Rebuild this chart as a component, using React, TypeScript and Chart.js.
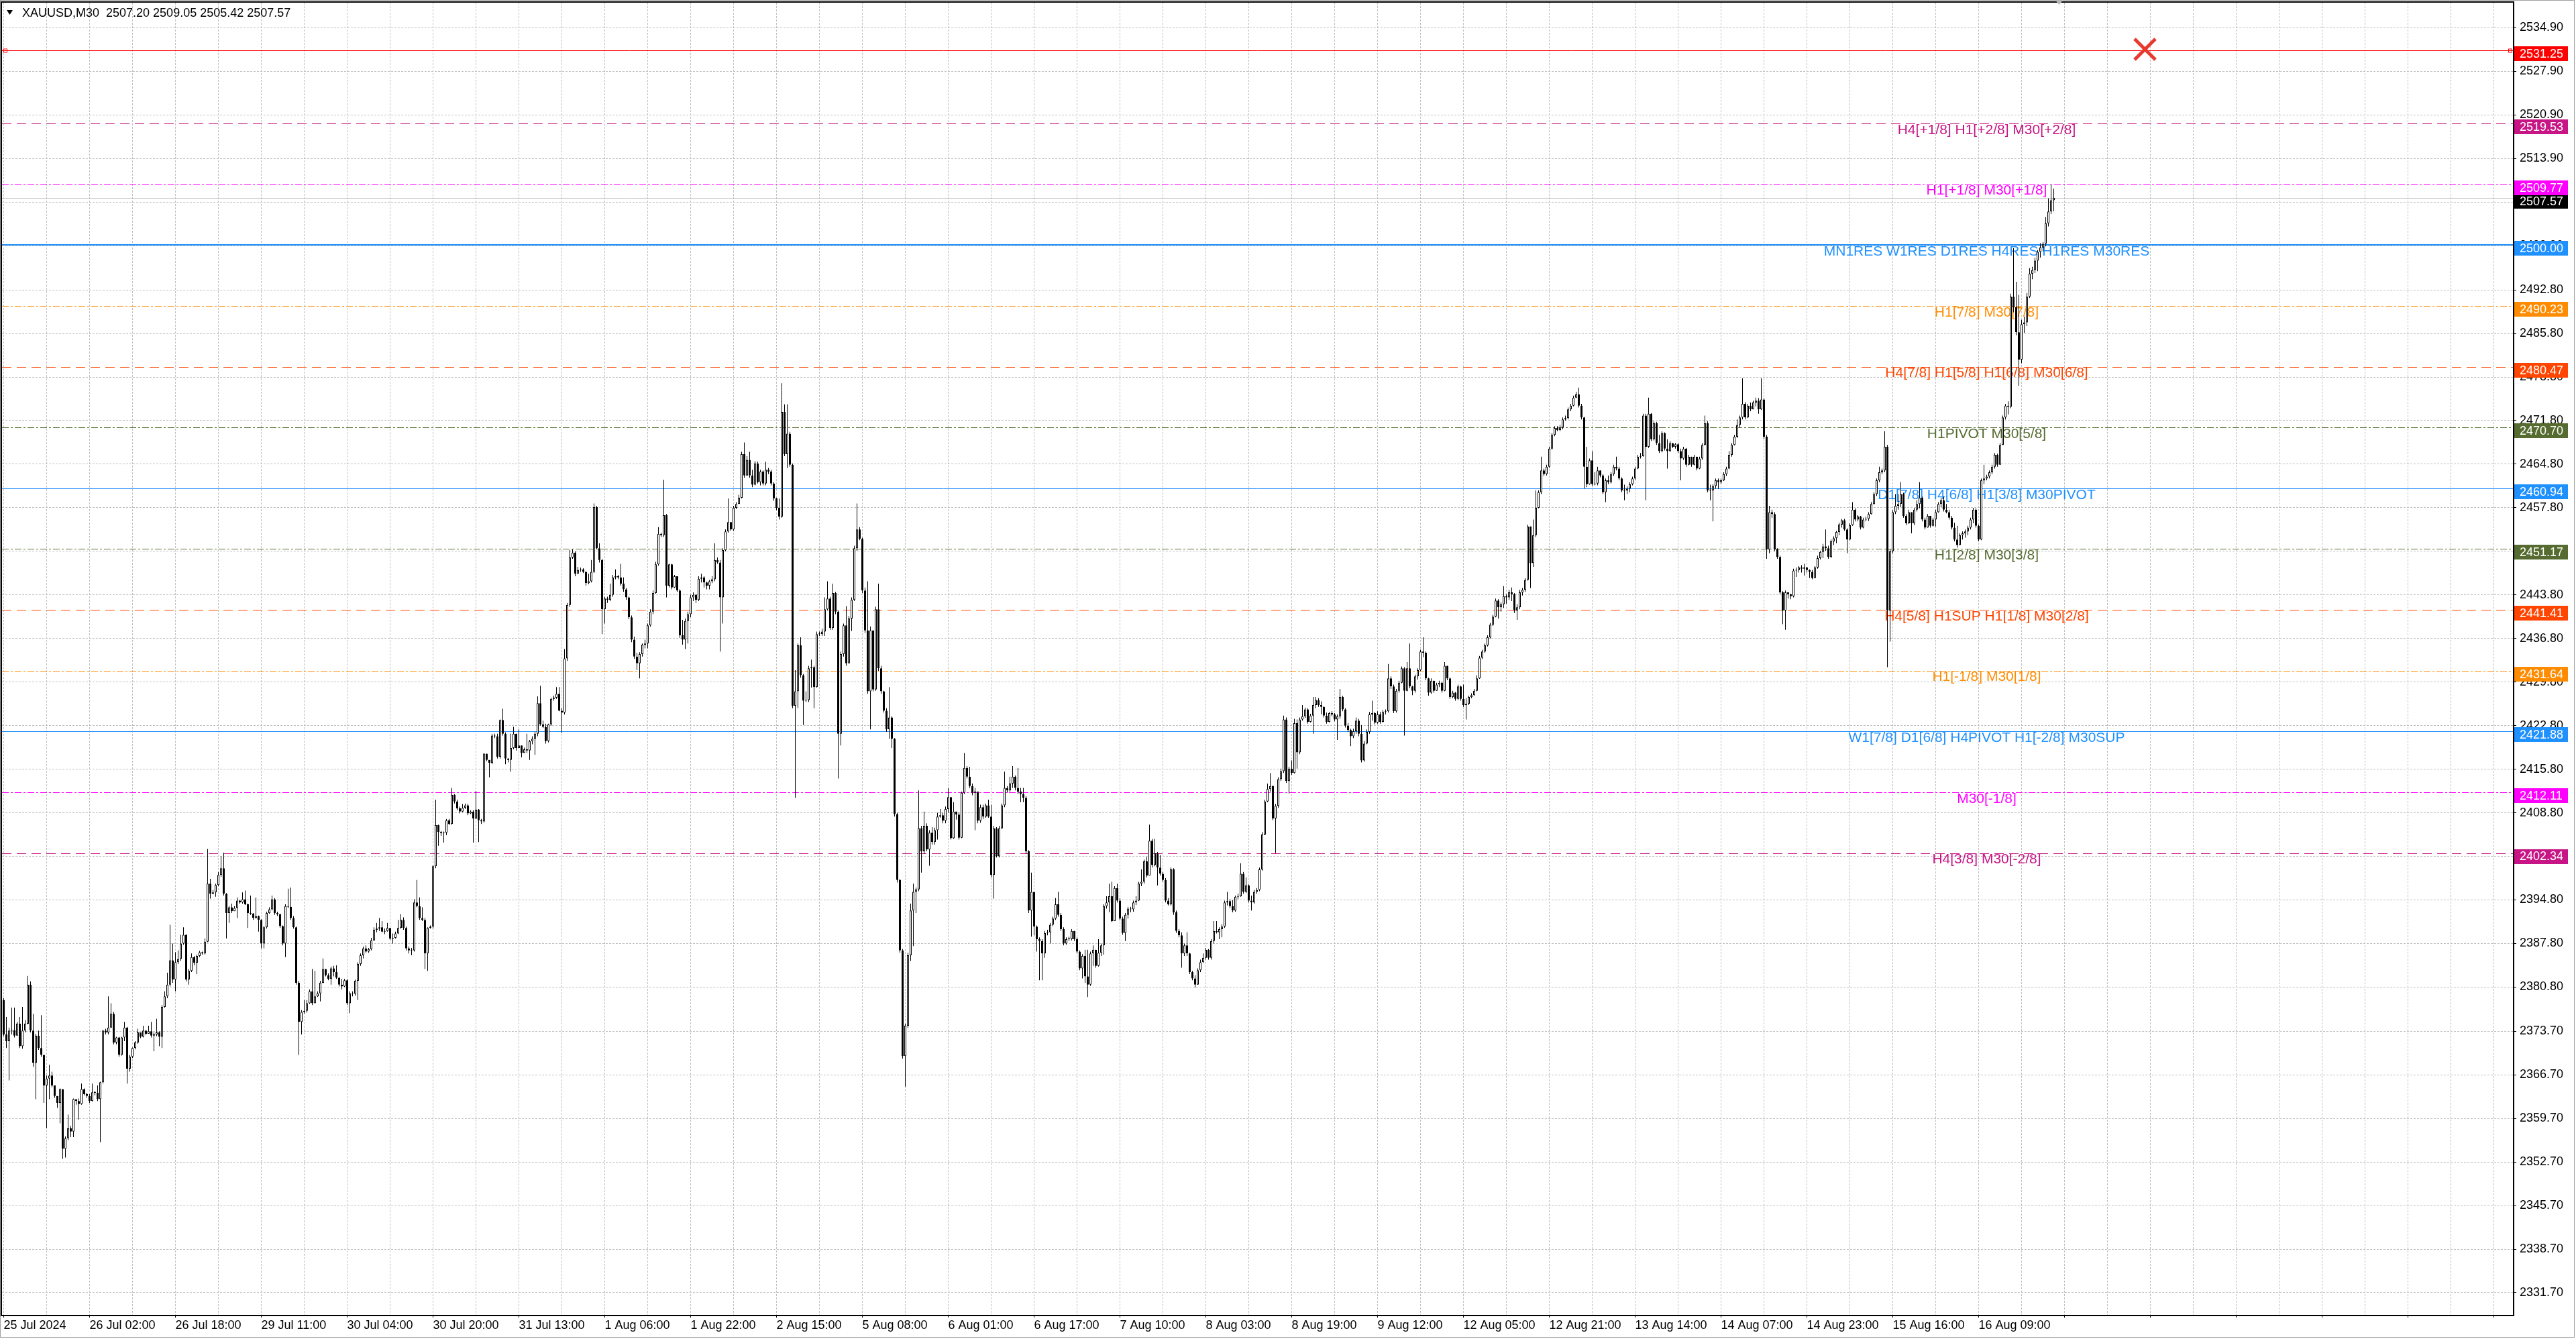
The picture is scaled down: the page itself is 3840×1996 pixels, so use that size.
import { useEffect, useRef } from 'react';
import { Chart, registerables } from 'chart.js';

Chart.register(...registerables);

// XAUUSD M30, 25 Jul 2024 09:00 .. 16 Aug 2024 23:00 (one value per bar)
const firstOpen = 2378.7;

const closes: number[] = [
  2373.2, 2372.1, 2373.8, 2373.9, 2373.0, 2374.9, 2371.3, 2373.8, 2374.9, 2381.2,
  2373.8, 2368.6, 2373.0, 2371.0, 2369.9, 2365.0, 2366.1, 2366.6, 2365.0, 2363.3,
  2362.2, 2364.4, 2354.8, 2356.5, 2358.1, 2357.6, 2362.8, 2362.5, 2362.0, 2364.4,
  2363.6, 2363.3, 2362.5, 2363.9, 2363.8, 2362.8, 2365.5, 2373.8, 2373.5, 2374.3,
  2376.5, 2371.9, 2372.7, 2369.9, 2372.7, 2374.3, 2367.7, 2369.6, 2371.0, 2371.9,
  2373.5, 2372.8, 2373.8, 2373.3, 2373.7, 2373.0, 2373.2, 2373.5, 2372.8, 2377.6,
  2379.3, 2381.2, 2385.1, 2382.0, 2384.8, 2385.3, 2387.8, 2389.2, 2382.0, 2383.4,
  2385.6, 2384.7, 2385.8, 2386.4, 2386.2, 2388.1, 2397.4, 2395.8, 2396.0, 2397.2,
  2398.8, 2399.9, 2395.8, 2392.7, 2393.6, 2393.0, 2393.5, 2394.7, 2394.4, 2394.9,
  2394.1, 2392.7, 2392.6, 2391.9, 2392.2, 2391.6, 2387.8, 2390.4, 2392.7, 2393.3,
  2394.9, 2392.7, 2392.5, 2390.6, 2387.8, 2393.8, 2393.7, 2391.9, 2390.4, 2381.5,
  2375.2, 2376.8, 2377.0, 2378.2, 2380.1, 2378.2, 2379.3, 2379.8, 2381.5, 2383.7,
  2382.7, 2382.1, 2383.8, 2383.2, 2382.3, 2381.2, 2380.9, 2381.9, 2378.2, 2379.8,
  2379.7, 2381.8, 2384.5, 2385.9, 2387.0, 2386.5, 2386.9, 2388.3, 2390.0, 2390.2,
  2390.4, 2389.7, 2389.8, 2390.3, 2388.6, 2388.7, 2389.4, 2390.3, 2391.6, 2390.3,
  2387.0, 2386.7, 2386.7, 2394.4, 2393.8, 2391.9, 2391.6, 2386.2, 2390.3, 2390.5,
  2400.2, 2406.8, 2405.7, 2405.5, 2405.6, 2407.6, 2407.0, 2411.7, 2410.6, 2409.5,
  2409.0, 2409.6, 2410.0, 2408.7, 2409.0, 2407.9, 2409.3, 2407.6, 2407.4, 2418.3,
  2417.3, 2416.8, 2421.2, 2421.1, 2417.8, 2423.7, 2421.5, 2417.5, 2417.3, 2419.2,
  2421.5, 2419.2, 2419.6, 2418.4, 2419.0, 2418.8, 2420.3, 2420.7, 2421.5, 2426.4,
  2423.0, 2422.6, 2420.3, 2423.0, 2427.1, 2427.3, 2427.9, 2425.2, 2424.9, 2433.6,
  2442.2, 2449.8, 2450.6, 2447.2, 2447.8, 2447.9, 2447.5, 2445.7, 2446.0, 2447.5,
  2457.9, 2451.3, 2449.4, 2441.5, 2443.2, 2443.0, 2443.8, 2446.6, 2446.8, 2446.6,
  2445.6, 2444.7, 2443.4, 2440.2, 2436.6, 2433.9, 2432.8, 2434.3, 2435.8, 2436.0,
  2438.9, 2441.1, 2444.1, 2448.7, 2453.6, 2453.4, 2456.6, 2445.3, 2448.7, 2445.0,
  2446.8, 2444.5, 2437.3, 2436.6, 2439.6, 2440.7, 2443.4, 2443.8, 2443.0, 2446.4,
  2446.6, 2445.8, 2445.3, 2446.0, 2446.3, 2449.4, 2449.0, 2443.4, 2451.0, 2454.0,
  2455.5, 2454.3, 2457.8, 2458.4, 2459.4, 2466.4, 2463.0, 2465.5, 2463.0, 2461.5,
  2464.9, 2461.9, 2463.6, 2461.7, 2463.9, 2463.6, 2461.7, 2459.3, 2457.8, 2456.4,
  2473.2, 2466.4, 2469.7, 2464.7, 2426.0, 2428.3, 2435.7, 2430.9, 2426.8, 2426.9,
  2432.0, 2432.2, 2429.0, 2437.5, 2437.5, 2437.9, 2441.5, 2443.2, 2438.5, 2444.1,
  2441.1, 2421.5, 2434.3, 2438.9, 2432.8, 2440.0, 2443.0, 2451.3, 2454.3, 2452.8,
  2444.5, 2438.1, 2428.3, 2438.1, 2428.6, 2441.5, 2432.0, 2428.3, 2425.2, 2422.2,
  2424.1, 2420.7, 2408.6, 2398.0, 2386.7, 2369.7, 2374.6, 2385.9, 2393.1, 2396.1,
  2396.5, 2406.3, 2402.6, 2406.7, 2402.9, 2405.6, 2404.1, 2406.0, 2408.2, 2408.4,
  2407.5, 2409.4, 2411.3, 2404.7, 2409.0, 2408.5, 2404.8, 2412.0, 2416.0, 2414.6,
  2413.1, 2412.0, 2412.2, 2407.5, 2409.7, 2408.2, 2410.0, 2408.2, 2398.8, 2406.3,
  2401.8, 2406.3, 2410.0, 2412.8, 2412.4, 2413.5, 2414.6, 2412.8, 2412.2, 2411.8,
  2411.2, 2402.6, 2393.1, 2396.1, 2390.5, 2388.5, 2388.2, 2386.2, 2389.5, 2389.6,
  2390.8, 2391.8, 2394.1, 2392.4, 2390.1, 2387.8, 2388.5, 2388.5, 2389.8, 2388.5,
  2386.5, 2383.8, 2385.8, 2382.5, 2381.2, 2386.2, 2386.8, 2384.2, 2386.3, 2387.5,
  2393.8, 2394.4, 2395.4, 2391.4, 2396.7, 2394.7, 2391.8, 2389.5, 2392.4, 2393.4,
  2393.3, 2394.4, 2394.7, 2397.4, 2397.7, 2401.0, 2398.7, 2404.3, 2400.4, 2402.3,
  2400.0, 2399.0, 2398.0, 2394.7, 2394.1, 2399.7, 2392.8, 2389.8, 2389.1, 2386.2,
  2387.5, 2386.2, 2383.2, 2382.2, 2381.2, 2383.5, 2384.8, 2385.5, 2386.8, 2385.5,
  2388.2, 2389.8, 2389.6, 2390.1, 2390.5, 2394.4, 2394.6, 2393.8, 2393.1, 2395.3,
  2395.4, 2399.0, 2396.1, 2397.1, 2394.7, 2394.4, 2396.1, 2396.4, 2399.7, 2405.3,
  2410.6, 2412.6, 2413.1, 2407.9, 2409.9, 2414.2, 2415.5, 2423.8, 2413.9, 2415.9,
  2415.2, 2423.2, 2418.5, 2423.8, 2424.3, 2425.4, 2423.4, 2424.4, 2426.1, 2426.9,
  2426.1, 2425.8, 2424.4, 2423.4, 2424.8, 2424.6, 2423.8, 2424.3, 2427.4, 2425.4,
  2422.8, 2422.1, 2421.1, 2421.9, 2423.6, 2421.5, 2417.2, 2419.9, 2421.8, 2424.6,
  2424.8, 2423.3, 2424.6, 2423.4, 2425.0, 2425.1, 2430.4, 2429.1, 2425.1, 2428.4,
  2429.7, 2432.0, 2428.4, 2432.0, 2429.1, 2428.4, 2430.7, 2431.7, 2434.7, 2434.5,
  2430.4, 2428.1, 2430.0, 2428.4, 2429.4, 2429.7, 2428.4, 2432.4, 2430.4, 2427.4,
  2428.1, 2427.1, 2429.1, 2427.1, 2426.1, 2426.3, 2427.4, 2427.7, 2428.4, 2430.4,
  2433.7, 2434.7, 2435.7, 2437.0, 2439.0, 2440.3, 2442.9, 2441.8, 2442.3, 2443.6,
  2443.4, 2444.2, 2443.9, 2441.3, 2441.8, 2444.2, 2444.6, 2446.2, 2454.8, 2448.9,
  2453.4, 2457.8, 2460.3, 2463.8, 2463.2, 2464.4, 2467.3, 2469.5, 2470.6, 2470.3,
  2470.7, 2472.0, 2472.2, 2473.6, 2474.2, 2475.5, 2476.0, 2474.2, 2472.3, 2464.4,
  2461.6, 2465.4, 2461.6, 2461.7, 2463.8, 2463.0, 2460.3, 2462.2, 2461.9, 2463.2,
  2464.4, 2464.1, 2462.5, 2460.6, 2460.6, 2460.9, 2461.6, 2462.5, 2464.1, 2466.0,
  2466.1, 2472.6, 2467.6, 2472.9, 2468.8, 2471.4, 2468.2, 2466.9, 2469.8, 2467.3,
  2466.9, 2468.2, 2467.6, 2468.0, 2466.9, 2465.7, 2467.3, 2464.7, 2466.0, 2464.7,
  2466.0, 2464.1, 2465.7, 2467.9, 2471.4, 2460.6, 2460.6, 2461.3, 2462.2, 2461.9,
  2462.2, 2463.2, 2464.1, 2466.3, 2467.9, 2469.2, 2471.1, 2472.3, 2474.5, 2472.3,
  2474.2, 2473.6, 2474.7, 2475.0, 2473.6, 2475.2, 2469.2, 2451.1, 2457.1, 2456.8,
  2451.1, 2449.9, 2444.2, 2441.3, 2444.2, 2443.9, 2443.6, 2447.7, 2447.8, 2448.2,
  2448.0, 2448.2, 2447.8, 2447.5, 2446.5, 2448.2, 2449.7, 2450.7, 2451.6, 2451.3,
  2449.9, 2452.4, 2452.9, 2453.9, 2455.1, 2455.8, 2454.3, 2452.7, 2455.0, 2457.5,
  2455.9, 2456.4, 2454.6, 2455.9, 2456.0, 2456.8, 2458.4, 2460.0, 2462.2, 2463.5,
  2463.8, 2467.6, 2441.3, 2450.8, 2457.1, 2458.1, 2458.4, 2460.0, 2456.5, 2455.3,
  2457.1, 2455.3, 2457.5, 2458.4, 2459.4, 2455.9, 2454.6, 2456.5, 2454.9, 2455.9,
  2457.1, 2458.4, 2459.0, 2457.5, 2457.1, 2456.2, 2454.6, 2452.7, 2451.8, 2453.4,
  2453.7, 2454.0, 2454.6, 2455.9, 2457.5, 2454.9, 2452.7, 2462.2, 2462.5, 2462.8,
  2463.5, 2464.4, 2466.3, 2464.7, 2467.9, 2472.3, 2474.2, 2474.0, 2491.7, 2490.0,
  2486.0, 2481.6, 2487.3, 2487.6, 2491.7, 2495.4, 2496.0, 2497.5, 2498.9, 2499.6,
  2500.2, 2503.5, 2505.4, 2507.2, 2507.57,
];

const highs: number[] = [
  2379.0, 2376.0, 2374.3, 2377.5, 2377.5, 2375.2, 2376.0, 2377.6, 2375.5, 2382.6,
  2381.7, 2376.5, 2373.3, 2373.8, 2376.3, 2369.9, 2366.6, 2368.3, 2367.2, 2365.0,
  2363.3, 2364.5, 2362.8, 2356.8, 2360.3, 2358.5, 2362.9, 2362.8, 2362.9, 2365.3,
  2364.5, 2363.8, 2363.6, 2365.3, 2364.1, 2365.0, 2365.6, 2373.9, 2374.1, 2379.3,
  2378.2, 2376.8, 2372.8, 2372.8, 2372.8, 2375.2, 2374.4, 2369.9, 2371.1, 2372.1,
  2374.1, 2373.5, 2374.6, 2373.9, 2374.6, 2375.2, 2373.5, 2375.7, 2373.7, 2377.9,
  2380.1, 2383.1, 2390.8, 2387.8, 2386.4, 2386.7, 2389.2, 2390.4, 2389.3, 2383.7,
  2386.2, 2385.8, 2386.0, 2386.6, 2386.5, 2388.6, 2403.0, 2398.2, 2396.4, 2397.4,
  2399.3, 2401.8, 2402.4, 2395.9, 2393.8, 2394.2, 2393.8, 2395.2, 2394.8, 2396.0,
  2396.3, 2394.2, 2395.5, 2392.7, 2395.2, 2392.3, 2391.7, 2390.6, 2392.9, 2393.6,
  2395.5, 2395.1, 2392.9, 2392.6, 2390.7, 2394.1, 2396.6, 2396.8, 2392.2, 2390.5,
  2381.8, 2377.1, 2378.7, 2378.7, 2380.4, 2383.7, 2383.4, 2380.1, 2381.8, 2385.4,
  2383.7, 2383.0, 2384.1, 2384.2, 2384.3, 2382.4, 2382.1, 2382.1, 2382.1, 2380.1,
  2380.1, 2382.0, 2384.8, 2386.2, 2387.3, 2387.5, 2387.1, 2388.7, 2390.4, 2391.1,
  2391.9, 2391.4, 2390.2, 2391.1, 2390.3, 2389.4, 2389.7, 2391.6, 2392.5, 2392.0,
  2390.5, 2387.3, 2387.1, 2394.9, 2398.0, 2395.2, 2393.6, 2391.9, 2390.4, 2390.7,
  2400.4, 2410.9, 2406.9, 2405.9, 2405.8, 2407.8, 2407.8, 2412.8, 2411.8, 2410.9,
  2409.8, 2410.2, 2410.3, 2410.2, 2409.2, 2409.2, 2412.3, 2409.4, 2407.8, 2418.4,
  2418.2, 2417.2, 2421.5, 2421.5, 2421.5, 2423.8, 2425.5, 2421.7, 2417.6, 2421.5,
  2422.6, 2421.1, 2422.2, 2419.6, 2419.3, 2421.5, 2420.5, 2421.1, 2421.8, 2427.5,
  2429.2, 2423.6, 2423.1, 2423.1, 2427.3, 2427.6, 2429.0, 2429.0, 2425.6, 2435.1,
  2442.5, 2451.0, 2451.1, 2450.8, 2448.3, 2448.2, 2448.1, 2447.6, 2447.2, 2449.4,
  2458.5, 2458.1, 2452.1, 2449.6, 2443.5, 2443.5, 2445.6, 2447.0, 2447.9, 2447.0,
  2448.8, 2446.6, 2444.9, 2443.5, 2440.5, 2437.1, 2434.5, 2434.6, 2436.0, 2436.6,
  2439.2, 2441.5, 2444.5, 2449.1, 2454.7, 2453.8, 2462.3, 2456.8, 2448.8, 2448.8,
  2447.0, 2446.6, 2444.7, 2439.8, 2440.0, 2441.1, 2443.8, 2444.2, 2444.0, 2446.8,
  2447.2, 2446.8, 2445.9, 2446.2, 2446.8, 2452.1, 2449.8, 2449.4, 2451.3, 2454.3,
  2459.3, 2455.5, 2458.1, 2458.7, 2459.9, 2466.8, 2468.3, 2466.1, 2466.8, 2463.9,
  2465.3, 2465.2, 2463.9, 2463.8, 2465.2, 2464.2, 2463.9, 2461.9, 2459.4, 2459.3,
  2477.8, 2474.4, 2474.4, 2470.0, 2464.9, 2431.7, 2436.0, 2437.0, 2431.1, 2428.3,
  2432.4, 2433.4, 2432.4, 2437.9, 2437.9, 2438.4, 2443.4, 2446.0, 2443.5, 2445.6,
  2444.3, 2441.3, 2434.7, 2439.2, 2442.0, 2440.4, 2443.4, 2451.7, 2458.5, 2454.7,
  2453.0, 2445.0, 2446.0, 2438.7, 2432.0, 2441.9, 2445.6, 2432.4, 2428.4, 2425.6,
  2429.0, 2424.3, 2420.8, 2408.8, 2398.2, 2386.9, 2374.9, 2386.3, 2394.2, 2397.4,
  2396.8, 2412.4, 2406.7, 2409.0, 2407.1, 2406.0, 2406.5, 2406.4, 2408.8, 2409.4,
  2408.8, 2409.8, 2412.8, 2411.3, 2410.5, 2409.0, 2408.8, 2412.2, 2418.4, 2416.3,
  2416.2, 2413.5, 2412.8, 2410.3, 2410.1, 2410.1, 2410.3, 2410.9, 2410.1, 2406.7,
  2406.5, 2406.7, 2410.3, 2415.4, 2413.1, 2414.6, 2416.3, 2414.8, 2416.0, 2412.8,
  2412.8, 2411.5, 2402.8, 2399.2, 2396.1, 2390.7, 2388.8, 2388.5, 2389.8, 2390.0,
  2391.1, 2392.1, 2395.1, 2396.1, 2392.7, 2390.4, 2388.8, 2388.9, 2390.1, 2389.8,
  2388.8, 2386.7, 2386.1, 2386.8, 2386.8, 2386.5, 2387.5, 2386.7, 2388.5, 2387.8,
  2394.1, 2395.4, 2397.4, 2397.7, 2397.0, 2397.4, 2395.1, 2392.1, 2392.7, 2393.7,
  2393.7, 2394.7, 2395.4, 2397.7, 2399.7, 2401.3, 2401.7, 2406.9, 2404.6, 2404.6,
  2402.5, 2402.0, 2399.3, 2398.3, 2395.1, 2400.0, 2399.9, 2393.1, 2390.1, 2389.6,
  2387.8, 2389.6, 2386.3, 2383.4, 2382.7, 2383.8, 2385.2, 2386.2, 2387.1, 2386.9,
  2388.5, 2391.4, 2391.4, 2390.4, 2390.9, 2394.7, 2396.1, 2394.9, 2394.8, 2395.5,
  2395.8, 2400.7, 2399.3, 2398.4, 2397.3, 2395.5, 2396.4, 2396.7, 2400.0, 2405.7,
  2410.9, 2413.5, 2415.2, 2413.2, 2410.2, 2414.5, 2415.9, 2424.4, 2424.1, 2416.2,
  2417.2, 2423.9, 2423.8, 2424.1, 2426.1, 2425.7, 2425.6, 2424.7, 2427.4, 2427.4,
  2427.2, 2426.7, 2425.9, 2424.9, 2425.0, 2425.1, 2424.8, 2424.6, 2428.7, 2427.6,
  2425.6, 2423.2, 2422.3, 2422.3, 2424.1, 2423.9, 2422.9, 2420.3, 2422.2, 2425.0,
  2426.8, 2425.0, 2425.1, 2425.0, 2425.3, 2425.4, 2432.7, 2430.7, 2429.4, 2428.7,
  2430.0, 2432.3, 2432.2, 2433.0, 2436.0, 2429.2, 2431.0, 2432.0, 2435.0, 2437.0,
  2434.7, 2430.5, 2430.4, 2429.6, 2429.7, 2430.0, 2429.8, 2433.0, 2432.2, 2430.5,
  2428.4, 2428.2, 2429.4, 2429.2, 2429.4, 2427.2, 2427.6, 2428.0, 2428.7, 2430.9,
  2434.0, 2435.0, 2436.0, 2437.3, 2439.3, 2440.6, 2443.2, 2443.1, 2442.6, 2445.2,
  2443.9, 2444.6, 2445.0, 2444.1, 2442.3, 2444.6, 2444.9, 2446.5, 2455.1, 2454.8,
  2455.9, 2460.6, 2460.6, 2466.0, 2464.1, 2464.7, 2467.6, 2469.8, 2470.9, 2470.9,
  2471.1, 2472.3, 2472.6, 2473.9, 2474.5, 2475.8, 2476.4, 2477.1, 2474.5, 2472.4,
  2467.6, 2465.7, 2466.9, 2463.5, 2464.4, 2463.7, 2463.2, 2462.5, 2463.0, 2463.5,
  2464.7, 2466.0, 2464.4, 2462.7, 2461.5, 2461.2, 2461.9, 2462.8, 2464.4, 2466.3,
  2466.6, 2472.9, 2472.9, 2475.5, 2473.0, 2471.7, 2471.6, 2469.5, 2470.1, 2469.9,
  2468.8, 2468.5, 2468.2, 2468.2, 2468.2, 2467.3, 2467.6, 2467.4, 2466.3, 2466.0,
  2466.3, 2465.4, 2466.0, 2468.2, 2472.6, 2471.7, 2461.5, 2461.6, 2462.5, 2462.5,
  2462.5, 2463.5, 2464.4, 2466.9, 2468.2, 2469.5, 2472.0, 2472.6, 2478.6, 2474.8,
  2474.5, 2474.7, 2475.0, 2475.5, 2475.4, 2478.6, 2475.4, 2469.5, 2458.1, 2457.5,
  2457.1, 2451.3, 2450.1, 2444.4, 2444.5, 2444.2, 2444.0, 2448.0, 2448.2, 2448.4,
  2448.6, 2448.8, 2448.3, 2447.9, 2447.8, 2448.4, 2450.1, 2450.9, 2452.0, 2454.3,
  2451.7, 2452.7, 2453.2, 2454.1, 2455.4, 2456.0, 2456.0, 2454.5, 2455.3, 2458.7,
  2457.7, 2456.6, 2456.5, 2456.2, 2456.4, 2457.1, 2458.7, 2460.3, 2462.5, 2464.4,
  2464.1, 2470.1, 2467.9, 2451.1, 2457.4, 2460.0, 2460.0, 2461.9, 2460.2, 2456.8,
  2457.5, 2457.0, 2457.8, 2459.0, 2461.9, 2459.6, 2456.2, 2456.8, 2456.5, 2456.2,
  2457.5, 2458.7, 2459.4, 2459.6, 2458.4, 2457.5, 2456.5, 2455.4, 2454.9, 2453.7,
  2454.0, 2454.3, 2454.9, 2456.2, 2457.8, 2457.7, 2455.1, 2462.5, 2464.7, 2463.1,
  2463.8, 2464.7, 2466.6, 2466.5, 2468.2, 2472.6, 2474.5, 2474.9, 2492.2, 2499.5,
  2494.1, 2492.0, 2488.0, 2488.5, 2492.3, 2496.3, 2496.5, 2498.0, 2499.2, 2500.3,
  2500.5, 2504.5, 2507.5, 2509.7, 2509.05,
];

const lows: number[] = [
  2372.9, 2371.0, 2365.8, 2373.2, 2372.7, 2373.0, 2371.0, 2370.9, 2373.5, 2374.8,
  2373.5, 2368.0, 2362.8, 2370.7, 2369.6, 2362.2, 2358.1, 2362.8, 2364.7, 2363.0,
  2361.4, 2358.9, 2353.2, 2353.4, 2356.2, 2356.7, 2356.7, 2361.9, 2359.5, 2361.9,
  2363.4, 2363.0, 2362.2, 2362.4, 2363.4, 2362.5, 2355.9, 2365.3, 2373.2, 2373.2,
  2374.2, 2371.6, 2371.6, 2369.6, 2369.8, 2372.1, 2365.3, 2367.2, 2369.4, 2370.8,
  2371.7, 2372.6, 2372.7, 2373.1, 2373.3, 2372.7, 2370.5, 2372.9, 2371.3, 2371.0,
  2377.5, 2379.0, 2380.9, 2381.5, 2380.1, 2384.5, 2385.0, 2387.6, 2381.7, 2381.2,
  2383.2, 2384.3, 2382.9, 2385.6, 2386.0, 2386.0, 2388.0, 2395.0, 2395.7, 2395.3,
  2397.0, 2398.5, 2395.5, 2388.6, 2391.1, 2392.7, 2393.1, 2391.9, 2394.2, 2394.2,
  2394.0, 2390.3, 2392.4, 2391.6, 2391.8, 2389.7, 2387.0, 2387.0, 2390.2, 2392.6,
  2393.1, 2392.4, 2392.2, 2390.3, 2387.5, 2385.6, 2393.5, 2391.6, 2390.2, 2381.2,
  2369.9, 2373.2, 2376.5, 2376.7, 2378.1, 2377.9, 2378.3, 2379.2, 2378.5, 2381.4,
  2382.5, 2381.9, 2381.2, 2382.5, 2382.1, 2380.9, 2380.4, 2380.8, 2377.9, 2376.6,
  2379.3, 2379.4, 2378.7, 2384.2, 2385.4, 2386.3, 2386.3, 2386.7, 2388.2, 2389.6,
  2389.8, 2389.6, 2389.3, 2389.7, 2388.3, 2387.8, 2388.6, 2389.3, 2390.2, 2390.0,
  2386.7, 2386.2, 2385.9, 2386.5, 2393.6, 2391.6, 2391.4, 2383.7, 2383.4, 2390.2,
  2390.2, 2399.9, 2403.5, 2405.1, 2404.0, 2405.2, 2406.8, 2406.9, 2410.3, 2409.2,
  2408.7, 2408.9, 2409.4, 2408.4, 2408.6, 2404.0, 2407.8, 2404.1, 2407.0, 2407.2,
  2417.1, 2414.5, 2416.6, 2420.8, 2417.5, 2417.5, 2421.2, 2416.6, 2416.9, 2415.4,
  2419.0, 2418.8, 2419.2, 2417.7, 2418.6, 2418.4, 2417.3, 2419.8, 2418.1, 2421.1,
  2422.8, 2422.4, 2419.9, 2420.1, 2422.8, 2426.8, 2427.1, 2425.1, 2421.6, 2424.6,
  2433.2, 2441.9, 2449.6, 2446.8, 2447.3, 2447.5, 2447.3, 2445.3, 2445.5, 2445.8,
  2447.3, 2451.1, 2449.0, 2437.5, 2439.2, 2442.5, 2442.8, 2443.5, 2446.3, 2446.3,
  2445.3, 2444.3, 2443.0, 2439.9, 2436.2, 2433.5, 2431.7, 2430.4, 2433.9, 2435.2,
  2435.2, 2438.7, 2440.7, 2444.0, 2448.5, 2453.1, 2453.1, 2443.4, 2445.0, 2444.7,
  2444.9, 2444.3, 2436.9, 2435.8, 2435.1, 2436.0, 2440.2, 2442.8, 2442.5, 2442.8,
  2445.8, 2445.0, 2444.7, 2444.7, 2445.7, 2446.0, 2448.8, 2434.7, 2439.2, 2450.8,
  2453.8, 2454.1, 2454.1, 2457.6, 2458.4, 2459.3, 2462.6, 2462.9, 2462.6, 2461.1,
  2461.4, 2461.7, 2461.4, 2461.4, 2461.4, 2463.2, 2461.4, 2458.9, 2457.4, 2455.9,
  2456.2, 2466.1, 2464.2, 2464.4, 2425.6, 2411.2, 2425.6, 2430.5, 2422.9, 2426.6,
  2426.6, 2428.9, 2425.6, 2428.9, 2437.2, 2437.2, 2437.2, 2441.3, 2438.2, 2438.2,
  2440.7, 2414.3, 2419.6, 2433.9, 2432.4, 2435.4, 2438.0, 2442.8, 2450.9, 2452.6,
  2444.1, 2437.7, 2427.9, 2422.2, 2428.3, 2428.4, 2431.6, 2427.9, 2424.9, 2421.8,
  2420.7, 2419.2, 2408.2, 2397.6, 2386.3, 2369.3, 2364.8, 2374.2, 2385.0, 2387.4,
  2392.7, 2396.2, 2399.2, 2402.2, 2402.6, 2400.3, 2403.7, 2403.7, 2404.5, 2408.0,
  2407.1, 2407.1, 2408.8, 2404.5, 2404.6, 2407.7, 2404.5, 2404.7, 2411.8, 2414.3,
  2412.8, 2411.6, 2406.0, 2407.1, 2407.2, 2407.8, 2408.0, 2408.0, 2398.4, 2395.0,
  2401.6, 2401.6, 2406.2, 2409.7, 2412.0, 2412.2, 2412.8, 2412.4, 2411.8, 2410.5,
  2410.5, 2402.2, 2392.7, 2388.9, 2389.1, 2386.5, 2381.9, 2381.9, 2385.5, 2389.1,
  2387.8, 2390.6, 2391.6, 2392.1, 2389.8, 2387.5, 2387.6, 2388.2, 2388.3, 2388.2,
  2386.2, 2383.5, 2382.2, 2381.5, 2379.2, 2381.0, 2384.2, 2383.9, 2384.1, 2385.8,
  2386.0, 2393.4, 2392.8, 2391.2, 2391.4, 2394.4, 2391.5, 2389.2, 2388.2, 2391.8,
  2392.8, 2392.9, 2394.0, 2394.6, 2397.0, 2397.4, 2398.4, 2398.7, 2400.0, 2400.2,
  2397.1, 2398.7, 2397.7, 2394.4, 2393.9, 2393.9, 2392.4, 2389.5, 2388.8, 2383.9,
  2385.8, 2385.8, 2382.9, 2381.9, 2380.7, 2382.5, 2383.2, 2384.7, 2385.2, 2385.2,
  2385.2, 2387.8, 2389.4, 2388.5, 2388.8, 2390.3, 2393.9, 2393.5, 2392.8, 2392.9,
  2394.9, 2395.3, 2395.8, 2395.9, 2394.4, 2393.1, 2394.2, 2395.8, 2396.2, 2399.5,
  2405.2, 2410.5, 2412.2, 2407.6, 2402.3, 2409.6, 2413.9, 2415.2, 2413.6, 2411.9,
  2414.9, 2415.1, 2415.9, 2418.2, 2423.6, 2424.0, 2423.1, 2423.3, 2421.5, 2425.6,
  2425.8, 2424.6, 2424.1, 2423.1, 2423.3, 2424.3, 2423.5, 2420.5, 2423.9, 2425.1,
  2422.5, 2421.8, 2419.5, 2420.8, 2421.5, 2421.1, 2416.9, 2417.0, 2419.8, 2421.5,
  2423.6, 2423.0, 2423.1, 2423.1, 2423.3, 2424.6, 2424.9, 2428.7, 2424.8, 2424.9,
  2428.1, 2429.6, 2421.2, 2428.3, 2428.8, 2427.7, 2428.1, 2430.2, 2431.6, 2433.8,
  2430.1, 2427.6, 2427.9, 2428.1, 2428.4, 2429.0, 2428.1, 2428.3, 2430.1, 2427.1,
  2427.2, 2426.8, 2426.9, 2426.8, 2425.8, 2423.8, 2426.1, 2427.2, 2427.6, 2428.3,
  2430.3, 2433.5, 2434.5, 2435.5, 2436.8, 2438.8, 2440.2, 2440.0, 2441.1, 2441.7,
  2442.4, 2443.0, 2442.8, 2440.9, 2439.8, 2441.5, 2443.7, 2444.3, 2446.1, 2444.9,
  2448.3, 2453.1, 2457.7, 2460.0, 2462.9, 2463.0, 2464.2, 2467.1, 2469.3, 2470.1,
  2470.1, 2470.4, 2471.8, 2472.0, 2473.3, 2474.1, 2475.4, 2473.9, 2472.0, 2460.9,
  2461.1, 2461.5, 2461.3, 2461.4, 2461.4, 2462.7, 2460.0, 2458.7, 2461.6, 2461.7,
  2462.9, 2463.8, 2462.2, 2460.3, 2459.0, 2460.0, 2460.3, 2461.4, 2462.3, 2464.0,
  2465.7, 2466.0, 2459.0, 2467.4, 2468.5, 2468.6, 2467.9, 2466.6, 2466.7, 2467.0,
  2464.1, 2466.8, 2467.4, 2467.3, 2466.6, 2462.2, 2465.5, 2464.4, 2464.6, 2464.4,
  2464.6, 2463.8, 2464.0, 2465.5, 2467.8, 2460.3, 2459.0, 2455.6, 2460.9, 2460.8,
  2461.6, 2462.1, 2462.9, 2464.0, 2466.0, 2467.8, 2469.0, 2470.7, 2472.0, 2472.0,
  2472.2, 2473.3, 2473.6, 2474.1, 2472.9, 2473.5, 2468.9, 2449.6, 2450.5, 2456.2,
  2450.8, 2449.6, 2443.9, 2439.1, 2438.2, 2443.2, 2443.1, 2443.4, 2446.7, 2447.4,
  2447.4, 2446.9, 2447.4, 2446.5, 2446.3, 2446.7, 2448.0, 2449.5, 2449.7, 2450.9,
  2449.6, 2449.7, 2451.8, 2452.1, 2453.4, 2454.6, 2454.1, 2450.5, 2452.6, 2454.9,
  2455.6, 2455.6, 2454.3, 2454.5, 2455.6, 2455.7, 2456.7, 2458.3, 2459.7, 2461.9,
  2463.2, 2463.5, 2432.2, 2436.3, 2450.5, 2456.8, 2457.5, 2457.9, 2456.2, 2455.0,
  2455.2, 2453.7, 2455.0, 2457.2, 2457.7, 2455.6, 2454.3, 2454.6, 2454.6, 2454.8,
  2454.8, 2457.0, 2457.9, 2457.2, 2456.9, 2455.9, 2454.3, 2452.4, 2451.4, 2452.0,
  2452.7, 2453.0, 2453.4, 2454.3, 2455.3, 2454.6, 2452.4, 2452.6, 2461.6, 2462.2,
  2462.5, 2463.2, 2464.1, 2464.4, 2464.7, 2467.9, 2472.0, 2472.8, 2473.8, 2489.2,
  2485.5, 2477.4, 2481.0, 2485.9, 2487.0, 2491.5, 2494.5, 2495.5, 2495.8, 2498.0,
  2499.0, 2499.8, 2503.0, 2505.0, 2505.42,
];

// time axis labels, one every 32 bars starting with the first bar
const timeLabels = [
  '25 Jul 2024', '26 Jul 02:00', '26 Jul 18:00', '29 Jul 11:00', '30 Jul 04:00', '30 Jul 20:00',
  '31 Jul 13:00', '1 Aug 06:00', '1 Aug 22:00', '2 Aug 15:00', '5 Aug 08:00', '6 Aug 01:00',
  '6 Aug 17:00', '7 Aug 10:00', '8 Aug 03:00', '8 Aug 19:00', '9 Aug 12:00', '12 Aug 05:00',
  '12 Aug 21:00', '13 Aug 14:00', '14 Aug 07:00', '14 Aug 23:00', '15 Aug 16:00', '16 Aug 09:00',
];

const priceTicks = [
  2534.9, 2527.9, 2520.9, 2513.9, 2506.9, 2499.9, 2492.8, 2485.8, 2478.8, 2471.8,
  2464.8, 2457.8, 2450.8, 2443.8, 2436.8, 2429.8, 2422.8, 2415.8, 2408.8, 2401.8,
  2394.8, 2387.8, 2380.8, 2373.7, 2366.7, 2359.7, 2352.7, 2345.7, 2338.7, 2331.7,
];

// murrey levels drawn by the indicator
const levelPrices = [
  2531.25, 2519.53, 2509.77, 2500.0, 2490.23, 2480.47, 2470.7,
  2460.94, 2451.17, 2441.41, 2431.64, 2421.88, 2412.11, 2402.34,
];
const levelTexts = [
  '',
  'H4[+1/8] H1[+2/8] M30[+2/8]',
  'H1[+1/8] M30[+1/8]',
  'MN1RES W1RES D1RES H4RES H1RES M30RES',
  'H1[7/8] M30[7/8]',
  'H4[7/8] H1[5/8] H1[6/8] M30[6/8]',
  'H1PIVOT M30[5/8]',
  'D1[7/8] H4[6/8] H1[3/8] M30PIVOT',
  'H1[2/8] M30[3/8]',
  'H4[5/8] H1SUP H1[1/8] M30[2/8]',
  'H1[-1/8] M30[1/8]',
  'W1[7/8] D1[6/8] H4PIVOT H1[-2/8] M30SUP',
  'M30[-1/8]',
  'H4[3/8] M30[-2/8]',
];

const crossBars = [798];
const crossPrices = [2531.45];

const symbol = 'XAUUSD,M30';
const labelBar = 739;

// ---- styles ----
const FONT = '"Liberation Sans", Arial, sans-serif';
const DASH = [14, 8];
const DASHDOT = [10, 3, 3, 3];
const GRID = '#c0c0c0';
const levelStyles = [
  { color: '#FF0000', dash: [] as number[], width: 1 },
  { color: '#C71585', dash: DASH, width: 1 },
  { color: '#FF00FF', dash: DASHDOT, width: 1 },
  { color: '#1E90FF', dash: [] as number[], width: 2 },
  { color: '#FF8C00', dash: DASHDOT, width: 1 },
  { color: '#FF4500', dash: DASH, width: 1 },
  { color: '#556B2F', dash: DASHDOT, width: 1 },
  { color: '#1E90FF', dash: [] as number[], width: 1 },
  { color: '#556B2F', dash: DASHDOT, width: 1 },
  { color: '#FF4500', dash: DASH, width: 1 },
  { color: '#FF8C00', dash: DASHDOT, width: 1 },
  { color: '#1E90FF', dash: [] as number[], width: 1 },
  { color: '#FF00FF', dash: DASHDOT, width: 1 },
  { color: '#C71585', dash: DASH, width: 1 },
];

const opens = closes.map((c, i) => (i === 0 ? firstOpen : closes[i - 1]));
const lastIdx = closes.length - 1;

const mtPlugin = {
  id: 'mt4look',
  beforeDraw(chart: any) {
    const { ctx, width, height } = chart;
    ctx.save();
    ctx.fillStyle = '#ffffff';
    ctx.fillRect(0, 0, width, height);
    ctx.restore();
  },
  beforeDatasetsDraw(chart: any) {
    const { ctx, chartArea: a, scales } = chart;
    const x = scales.x;
    const y = scales.y;
    ctx.save();
    // bid line
    const yb = Math.round(y.getPixelForValue(closes[lastIdx])) + 0.5;
    ctx.strokeStyle = '#c0c0c0';
    ctx.lineWidth = 1;
    ctx.beginPath();
    ctx.moveTo(a.left, yb);
    ctx.lineTo(a.right, yb);
    ctx.stroke();

    levelPrices.forEach((p, k) => {
      const st = levelStyles[k];
      const py = Math.round(y.getPixelForValue(p)) + (st.width % 2 ? 0.5 : 0);
      ctx.setLineDash(st.dash);
      ctx.lineWidth = st.width;
      ctx.strokeStyle = st.color;
      ctx.beginPath();
      ctx.moveTo(a.left, py);
      ctx.lineTo(a.right, py);
      ctx.stroke();
    });
    ctx.setLineDash([]);

    ctx.font = `21px ${FONT}`;
    ctx.textAlign = 'center';
    ctx.textBaseline = 'middle';
    const lx = x.getPixelForValue(labelBar);
    levelPrices.forEach((p, k) => {
      if (!levelTexts[k]) return;
      ctx.fillStyle = levelStyles[k].color;
      ctx.fillText(levelTexts[k], lx, y.getPixelForValue(p) + 10);
    });
    ctx.restore();
  },
  afterDraw(chart: any) {
    const { ctx, chartArea: a, scales, width, height } = chart;
    const x = scales.x;
    const y = scales.y;
    ctx.save();

    // frame of the chart window
    ctx.strokeStyle = '#000';
    ctx.lineWidth = 2;
    ctx.strokeRect(a.left - 1, a.top - 1, a.right - a.left + 2, a.bottom - a.top + 2);
    ctx.strokeStyle = '#a0a0a0';
    ctx.lineWidth = 1;
    ctx.strokeRect(0.5, 0.5, width - 3, height - 3);

    // price tags on the right scale
    const tag = (p: number, bg: string) => {
      const cy = y.getPixelForValue(p) + 5;
      ctx.fillStyle = bg;
      ctx.fillRect(a.right + 2, Math.round(cy - 11), 80, 22);
      ctx.fillStyle = '#fff';
      ctx.font = `18px ${FONT}`;
      ctx.textAlign = 'left';
      ctx.textBaseline = 'middle';
      ctx.fillText(p.toFixed(2), a.right + 10, cy + 1);
    };
    tag(closes[lastIdx], '#000');
    levelPrices.forEach((p, k) => tag(p, levelStyles[k].color));

    // selection squares at both ends of the red line
    const ry = Math.round(y.getPixelForValue(levelPrices[0])) + 0.5;
    ctx.strokeStyle = '#FF0000';
    ctx.lineWidth = 1;
    ctx.strokeRect(a.left + 2.5, ry - 2.5, 5, 5);
    ctx.strokeRect(a.right - 6.5, ry - 2.5, 5, 5);

    // chart shift marker
    const sx = x.getPixelForValue(closes.length + 1);
    ctx.fillStyle = '#b4b4b4';
    ctx.beginPath();
    ctx.moveTo(sx - 6, 0);
    ctx.lineTo(sx + 6, 0);
    ctx.lineTo(sx, 7);
    ctx.closePath();
    ctx.fill();

    // title
    ctx.fillStyle = '#000';
    ctx.beginPath();
    ctx.moveTo(10, 15);
    ctx.lineTo(19, 15);
    ctx.lineTo(14.5, 22);
    ctx.closePath();
    ctx.fill();
    ctx.font = `18px ${FONT}`;
    ctx.textAlign = 'left';
    ctx.textBaseline = 'middle';
    const t = `${symbol}  ${opens[lastIdx].toFixed(2)} ${highs[lastIdx].toFixed(2)} ${lows[lastIdx].toFixed(2)} ${closes[lastIdx].toFixed(2)}`;
    ctx.fillText(t, 33, 20);
    ctx.restore();
  },
};

export default function App() {
  const canvasRef = useRef<HTMLCanvasElement>(null);
  const chartRef = useRef<Chart | null>(null);

  useEffect(() => {
    document.body.style.margin = '0';
    if (!canvasRef.current) return;
    if (chartRef.current) chartRef.current.destroy();

    const bodies = closes.map((c, i) => ({ x: i, y: [Math.min(opens[i], c), Math.max(opens[i], c)] }));
    const wicks = closes.map((c, i) => ({
      x: i,
      y: [Math.min(lows[i], opens[i], c), Math.max(highs[i], opens[i], c)],
    }));
    const bodyColors = closes.map((c, i) => (c >= opens[i] ? '#ffffff' : '#000000'));

    const gridBars: number[] = [];
    for (let v = 0; v <= 928; v += 16) gridBars.push(v);

    chartRef.current = new Chart(canvasRef.current, {
      type: 'bar',
      data: {
        datasets: [
          {
            type: 'scatter',
            data: crossBars.map((b, k) => ({ x: b, y: crossPrices[k] })),
            pointStyle: 'crossRot',
            pointRadius: 22,
            pointBorderWidth: 5,
            borderColor: '#E8392F',
            backgroundColor: '#E8392F',
            order: 0,
          } as any,
          {
            type: 'bar',
            data: bodies as any,
            backgroundColor: bodyColors,
            borderColor: '#000000',
            borderWidth: 1,
            borderSkipped: false,
            barThickness: 3,
            minBarLength: 1,
            grouped: false,
            inflateAmount: 0,
            order: 1,
          } as any,
          {
            type: 'bar',
            data: wicks as any,
            backgroundColor: '#000000',
            borderWidth: 0,
            barThickness: 1,
            grouped: false,
            inflateAmount: 0,
            order: 2,
          } as any,
        ],
      },
      options: {
        responsive: false,
        devicePixelRatio: 1,
        animation: false,
        events: [],
        layout: { autoPadding: false, padding: { left: 3, top: 4, right: 0, bottom: 0 } },
        plugins: { legend: { display: false }, tooltip: { enabled: false } },
        scales: {
          x: {
            type: 'linear',
            offset: false,
            min: -0.625,
            max: 935.125,
            afterBuildTicks: (s: any) => {
              s.ticks = gridBars.map((v) => ({ value: v }));
            },
            afterFit: (s: any) => {
              s.height = 36;
              s.paddingLeft = 0;
              s.paddingRight = 0;
            },
            ticks: {
              autoSkip: false,
              maxRotation: 0,
              minRotation: 0,
              align: 'start',
              padding: 1,
              color: '#000',
              font: { family: FONT, size: 18 },
              callback: (v: any) => {
                const n = Number(v);
                return n % 32 === 0 && timeLabels[n / 32] ? timeLabels[n / 32] : '';
              },
            },
            grid: {
              offset: false,
              color: GRID,
              lineWidth: 1,
              tickLength: 4,
              tickColor: (c: any) => (c.tick && c.tick.value % 32 === 0 ? '#000' : 'rgba(0,0,0,0)'),
              tickBorderDash: [],
            },
            border: { display: false, dash: [3, 2] },
          } as any,
          y: {
            type: 'linear',
            position: 'right',
            min: 2328.14,
            max: 2538.94,
            afterBuildTicks: (s: any) => {
              s.ticks = [...priceTicks].sort((p, q) => p - q).map((v) => ({ value: v }));
            },
            afterFit: (s: any) => {
              s.width = 94;
              s.paddingTop = 0;
              s.paddingBottom = 0;
            },
            ticks: {
              padding: 5,
              color: '#000',
              font: { family: FONT, size: 18 },
              callback: (v: any) => Number(v).toFixed(2),
            },
            grid: {
              color: GRID,
              lineWidth: 1,
              tickLength: 5,
              tickColor: '#000',
              tickBorderDash: [],
            },
            border: { display: false, dash: [3, 2] },
          } as any,
        },
      },
      plugins: [mtPlugin],
    });

    return () => {
      if (chartRef.current) {
        chartRef.current.destroy();
        chartRef.current = null;
      }
    };
  }, []);

  return (
    <div style={{ width: 3840, height: 1996 }}>
      <canvas ref={canvasRef} width={3840} height={1996} style={{ display: 'block' }} />
    </div>
  );
}
